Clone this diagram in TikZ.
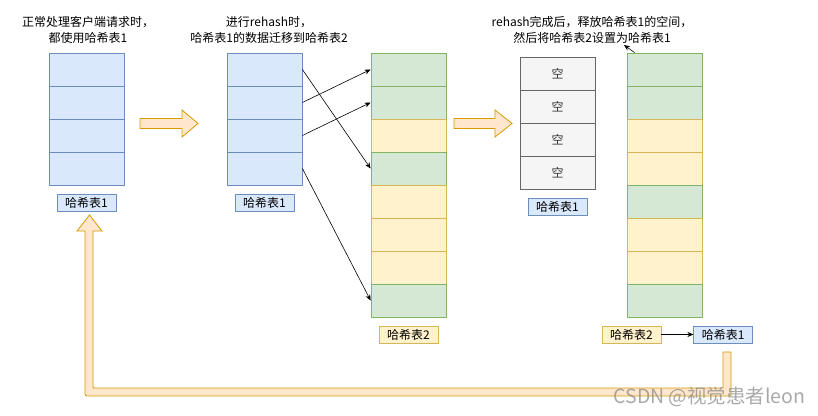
\documentclass[tikz,border=0pt]{standalone}
\usepackage{fontspec}
\setmainfont{Noto Sans CJK SC}
\usetikzlibrary{arrows.meta, positioning}
\definecolor{hblue}{HTML}{DAE8FC}
\definecolor{hblueline}{HTML}{6C8EBF}
\definecolor{hgreen}{HTML}{D5E8D4}
\definecolor{hgreenline}{HTML}{82B366}
\definecolor{hyellow}{HTML}{FFF2CC}
\definecolor{hyellowline}{HTML}{D6B656}
\definecolor{hgray}{HTML}{F5F5F5}
\definecolor{hgrayline}{HTML}{666666}
\definecolor{hpeach}{HTML}{FFE6CC}
\definecolor{hpeachline}{HTML}{D79B00}

\begin{document}
\begin{tikzpicture}[x=1pt, y=-1pt, font=\fontsize{12}{16}\selectfont,
  cell/.style={draw, line width=0.8pt, minimum width=75pt, minimum height=33pt, inner sep=0pt},
  bc/.style={fill=hblue, draw=hblueline},
  gc/.style={fill=hgreen, draw=hgreenline},
  yc/.style={fill=hyellow, draw=hyellowline},
  ec/.style={fill=hgray, draw=hgrayline, text=black!80},
  tag/.style={draw, line width=0.8pt, minimum width=59pt, minimum height=17pt, inner sep=0pt},
  link/.style={-{Stealth[length=6pt,width=5pt]}, line width=0.6pt},
  fat/.style={fill=hpeach, draw=hpeachline, line width=0.8pt, line join=miter}]
  \useasboundingbox (0,0) rectangle (818,415);
  % Titles
  \node[align=center] (t1) at (88,30) {正常处理客户端请求时，\\都使用哈希表1};
  \node[align=center] (t2) at (269,30) {进行rehash时，\\哈希表1的数据迁移到哈希表2};
  \node[align=center] (t3) at (592,30) {rehash完成后，释放哈希表1的空间，\\然后将哈希表2设置为哈希表1};
  % Step 1: table 1 in use
  \foreach \i in {0,...,3}
    \node[cell, bc] (a\i) at (86.5, {69.5+33*\i}) {};
  \node[tag, bc, below=9pt of a3] (la) {哈希表1};
  % Step 2: rehash from table 1 to table 2
  \foreach \i in {0,...,3}
    \node[cell, bc] (b\i) at (264.5, {69.5+33*\i}) {};
  \node[tag, bc, below=9pt of b3] (lb) {哈希表1};
  \foreach \s [count=\i] in {gc,gc,yc,gc,yc,yc,yc,gc}
    \node[cell, \s] (c\i) at (408.5, {36.5+33*\i}) {};
  \node[tag, yc, below=9pt of c8] (lc) {哈希表2};
  \draw[link] (b0.east) -- (c4.west);
  \draw[link] (b1.east) -- (c1.west);
  \draw[link] (b2.east) -- (c2.west);
  \draw[link] (b3.east) -- (c8.west);
  % Step 3: table 1 freed, table 2 becomes table 1
  \foreach \i in {0,...,3}
    \node[cell, ec] (e\i) at (557.5, {73.5+33*\i}) {空};
  \node[tag, bc, below=9pt of e3] (le) {哈希表1};
  \foreach \s [count=\i] in {gc,gc,yc,yc,gc,yc,yc,gc}
    \node[cell, \s] (r\i) at (664.5, {36.5+33*\i}) {};
  \node[tag, yc] (lr2) at (631.5,334.5) {哈希表2};
  \node[tag, bc, right=32pt of lr2] (lr1) {哈希表1};
  \draw[link] (lr2.east) -- (lr1.west);
  \coordinate (note) at (624,45);
  \draw[link] ([xshift=8pt]r1.north west) -- (note);
  % Block arrows
  \draw[fat] (140,118.5) -- (182,118.5) -- (182,110) -- (198,123.5) -- (182,137)
    -- (182,128.5) -- (140,128.5) -- cycle;
  \draw[fat] (454,118.5) -- (495,118.5) -- (495,110) -- (512,123.5) -- (495,137)
    -- (495,128.5) -- (454,128.5) -- cycle;
  % Back to the start
  \draw[fat] (723,352) -- (731,352) -- (731,396) -- (90,396) .. controls (85,396) .. (85,391)
    -- (85,231) -- (77,231) -- (89.5,215) -- (102,231) -- (93,231) -- (93,386)
    .. controls (93,388) .. (95,388) -- (723,388) -- cycle;
  % Watermark
  \node[anchor=west, font=\fontsize{19.5}{19.5}\selectfont, text=black!45, text opacity=0.75]
    (mark) at (610,397) {CSDN @视觉患者leon};
\end{tikzpicture}
\end{document}
